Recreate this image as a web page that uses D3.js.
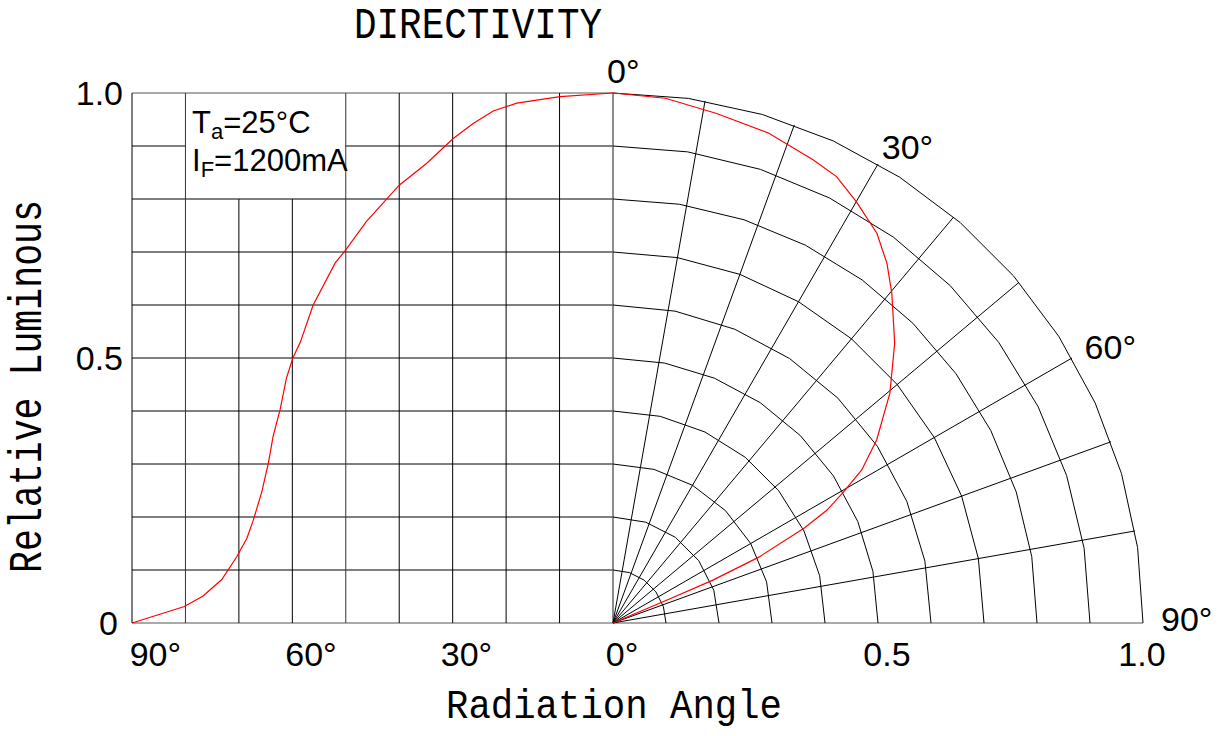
<!DOCTYPE html>
<meta charset="utf-8">
<script src="https://d3js.org/d3.v7.min.js"></script>
<style>
  body { margin: 0; background: #fff; }
  .num { font-family: "Liberation Sans", Arial, sans-serif; font-size: 34px; fill: #000; }
  .mono { font-family: "Liberation Mono", "Courier New", monospace; fill: #000; }
</style>
<body>
<script>

// ---- data ----
var angleTicks = [90, 60, 30, 0];            // bottom labels of the left grid
var lumTicks = [0, 0.5, 1.0];                // left axis labels
var radiusTicks = [0.5, 1.0];                // bottom labels of the polar half
var polarTickAngles = [0, 30, 60, 90];       // labels round the polar half
var gridAngles = [90, 80, 70, 60, 50, 40, 30, 20, 10, 0];
var gridLevels = [0.1, 0.2, 0.3, 0.4, 0.5, 0.6, 0.7, 0.8, 0.9, 1.0];

// left (cartesian) curve
var leftAngle = [90, 80.2, 76.7, 73.2, 70.4, 68.5, 67.3, 65.7, 64.5, 63.6, 62.3, 61.1, 59.9, 58.5, 56.1, 52.0, 50.0, 46.2, 40.0, 34.9, 29.9, 26.1, 22.4, 18.0, 9.9, 0];
var leftLum   = [0, 0.031, 0.051, 0.082, 0.125, 0.16, 0.194, 0.248, 0.301, 0.352, 0.402, 0.462, 0.5, 0.53, 0.6, 0.679, 0.704, 0.757, 0.826, 0.867, 0.914, 0.943, 0.966, 0.981, 0.993, 1.0];

// right (polar) curve
var polarAngle = [0, 5.7, 11.5, 17.6, 23.4, 26.6, 30.0, 34.1, 37.3, 40.2, 45.2, 50.3, 55.2, 58.4, 60.4, 62.2, 63.6, 65.7, 66.8, 67.0, 67.3];
var polarLum   = [1.0, 0.995, 0.981, 0.970, 0.952, 0.942, 0.918, 0.888, 0.853, 0.815, 0.749, 0.679, 0.606, 0.551, 0.5, 0.456, 0.403, 0.302, 0.204, 0.105, 0];

var width = 1220, height = 736;
var cx = 613, cy = 623, R = 530;

var svg = d3.select("body").append("svg")
    .attr("width", width)
    .attr("height", height);

// scales
var x = d3.scaleLinear().domain([90, 0]).range([132, cx]);
var y = d3.scaleLinear().domain([0, 1]).range([cy, cy - R]);
var r = d3.scaleLinear().domain([0, 1]).range([0, R]);
var rad = function(a) { return a * Math.PI / 180; };

// ---------- left grid ----------
var grid = svg.append("g")
    .attr("fill", "none")
    .attr("stroke", "#000")
    .attr("stroke-width", 1);

// the text box covers 80..50 deg, 0.8..1.0
var boxA = [80, 50], boxV = 0.8;

// horizontal lines
gridLevels.concat([0]).forEach(function(v) {
  if (v > boxV && v < 1) {
    grid.append("line").attr("x1", x(90)).attr("x2", x(boxA[0])).attr("y1", y(v)).attr("y2", y(v));
    grid.append("line").attr("x1", x(boxA[1])).attr("x2", x(0)).attr("y1", y(v)).attr("y2", y(v));
  } else {
    grid.append("line")
      .attr("x1", x(90)).attr("x2", v == 0 ? cx + R : x(0))
      .attr("y1", y(v)).attr("y2", y(v))
      .attr("stroke", v == 0 || v == 1 ? "#555" : "#000");
  }
});

// vertical lines
gridAngles.forEach(function(a) {
  var top = (a < boxA[0] && a > boxA[1]) ? boxV : 1;
  grid.append("line")
    .attr("x1", x(a)).attr("x2", x(a))
    .attr("y1", y(0)).attr("y2", y(top))
    .attr("stroke", a == 0 ? "#666" : (a == 80 || a == 50 ? "#333" : "#000"))
    .attr("stroke-width", a == 0 ? 1.5 : 1);
});

// ---------- polar half ----------
var polar = svg.append("g")
    .attr("transform", "translate(" + cx + "," + cy + ")")
    .attr("fill", "none")
    .attr("stroke", "#000")
    .attr("stroke-width", 1);

// spokes every 10 deg
gridAngles.filter(function(a) { return a > 0 && a < 90; }).forEach(function(a) {
  polar.append("line")
    .attr("x1", 0).attr("y1", 0)
    .attr("x2", r(1) * Math.sin(rad(a)))
    .attr("y2", -r(1) * Math.cos(rad(a)));
});

// rings drawn as polylines (the source is faceted)
var ring = d3.lineRadial()
    .angle(function(d) { return rad(d[0]); })
    .radius(function(d) { return r(d[1]); });

gridLevels.forEach(function(v) {
  var n = Math.round(4 + 7 * v);
  var pts = d3.range(n + 1).map(function(i) { return [i * 90 / n, v]; });
  polar.append("path").attr("d", ring(pts));
});

// ---------- curves ----------
var leftLine = d3.line()
    .x(function(d, i) { return x(leftAngle[i]); })
    .y(function(d, i) { return y(leftLum[i]); });

svg.append("path")
    .attr("d", leftLine(leftAngle))
    .attr("fill", "none")
    .attr("stroke", "#ff0000")
    .attr("stroke-width", 1.2);

var polarLine = d3.lineRadial()
    .angle(function(d, i) { return rad(polarAngle[i]); })
    .radius(function(d, i) { return r(polarLum[i]); });

polar.append("path")
    .attr("d", polarLine(polarAngle))
    .attr("stroke", "#ff0000")
    .attr("stroke-width", 1.2);

// ---------- labels ----------
// left axis
svg.selectAll(".lum")
  .data(lumTicks)
  .enter().append("text")
    .attr("class", "num")
    .attr("x", function(d) { return d == 0 ? 118 : 123; })
    .attr("y", function(d) { return y(d) + 12; })
    .attr("text-anchor", "end")
    .text(function(d) { return d == 0 ? "0" : d.toFixed(1); });

// bottom angles
svg.selectAll(".ang")
  .data(angleTicks)
  .enter().append("text")
    .attr("class", "num")
    .attr("x", function(d) { return x(d) + 9 + d * 0.16; })
    .attr("y", 666)
    .attr("text-anchor", "middle")
    .text(function(d) { return d + "°"; });

// bottom radius labels
svg.selectAll(".rad")
  .data(radiusTicks)
  .enter().append("text")
    .attr("class", "num")
    .attr("x", function(d) { return cx + r(d) + 19 - 20 * d; })
    .attr("y", 666)
    .attr("text-anchor", "middle")
    .text(function(d) { return d.toFixed(1); });

// angles round the arc
svg.selectAll(".pang")
  .data(polarTickAngles)
  .enter().append("text")
    .attr("class", "num")
    .attr("x", function(d) { return cx + (R + 18) * Math.sin(rad(d)) - 6 * Math.cos(rad(d)); })
    .attr("y", function(d) { return cy - (R + 12) * Math.cos(rad(d)) + 2 + 6 * Math.sin(rad(d)); })
    .text(function(d) { return d + "°"; });

// condition box text
var t1 = svg.append("text").attr("class", "num").attr("x", 192).attr("y", 133).style("font-size", "31px");
t1.append("tspan").text("T");
t1.append("tspan").attr("dy", 6).style("font-size", "22px").text("a");
t1.append("tspan").attr("dy", -6).text("=25°C");

var t2 = svg.append("text").attr("class", "num").attr("x", 192).attr("y", 171).style("font-size", "31px");
t2.append("tspan").text("I");
t2.append("tspan").attr("dy", 6).style("font-size", "22px").text("F");
t2.append("tspan").attr("dy", -6).text("=1200mA");

// titles (monospaced, squeezed to the source widths)
svg.append("text")
    .attr("class", "mono")
    .attr("x", 354).attr("y", 38)
    .style("font-size", "45px")
    .attr("textLength", 248)
    .attr("lengthAdjust", "spacingAndGlyphs")
    .text("DIRECTIVITY");

svg.append("text")
    .attr("class", "mono")
    .attr("x", 446).attr("y", 718)
    .style("font-size", "41px")
    .attr("textLength", 336)
    .attr("lengthAdjust", "spacingAndGlyphs")
    .text("Radiation Angle");

svg.append("text")
    .attr("class", "mono")
    .attr("transform", "translate(41,573) rotate(-90)")
    .style("font-size", "47px")
    .attr("textLength", 373)
    .attr("lengthAdjust", "spacingAndGlyphs")
    .text("Relative Luminous");

</script>
</body>
